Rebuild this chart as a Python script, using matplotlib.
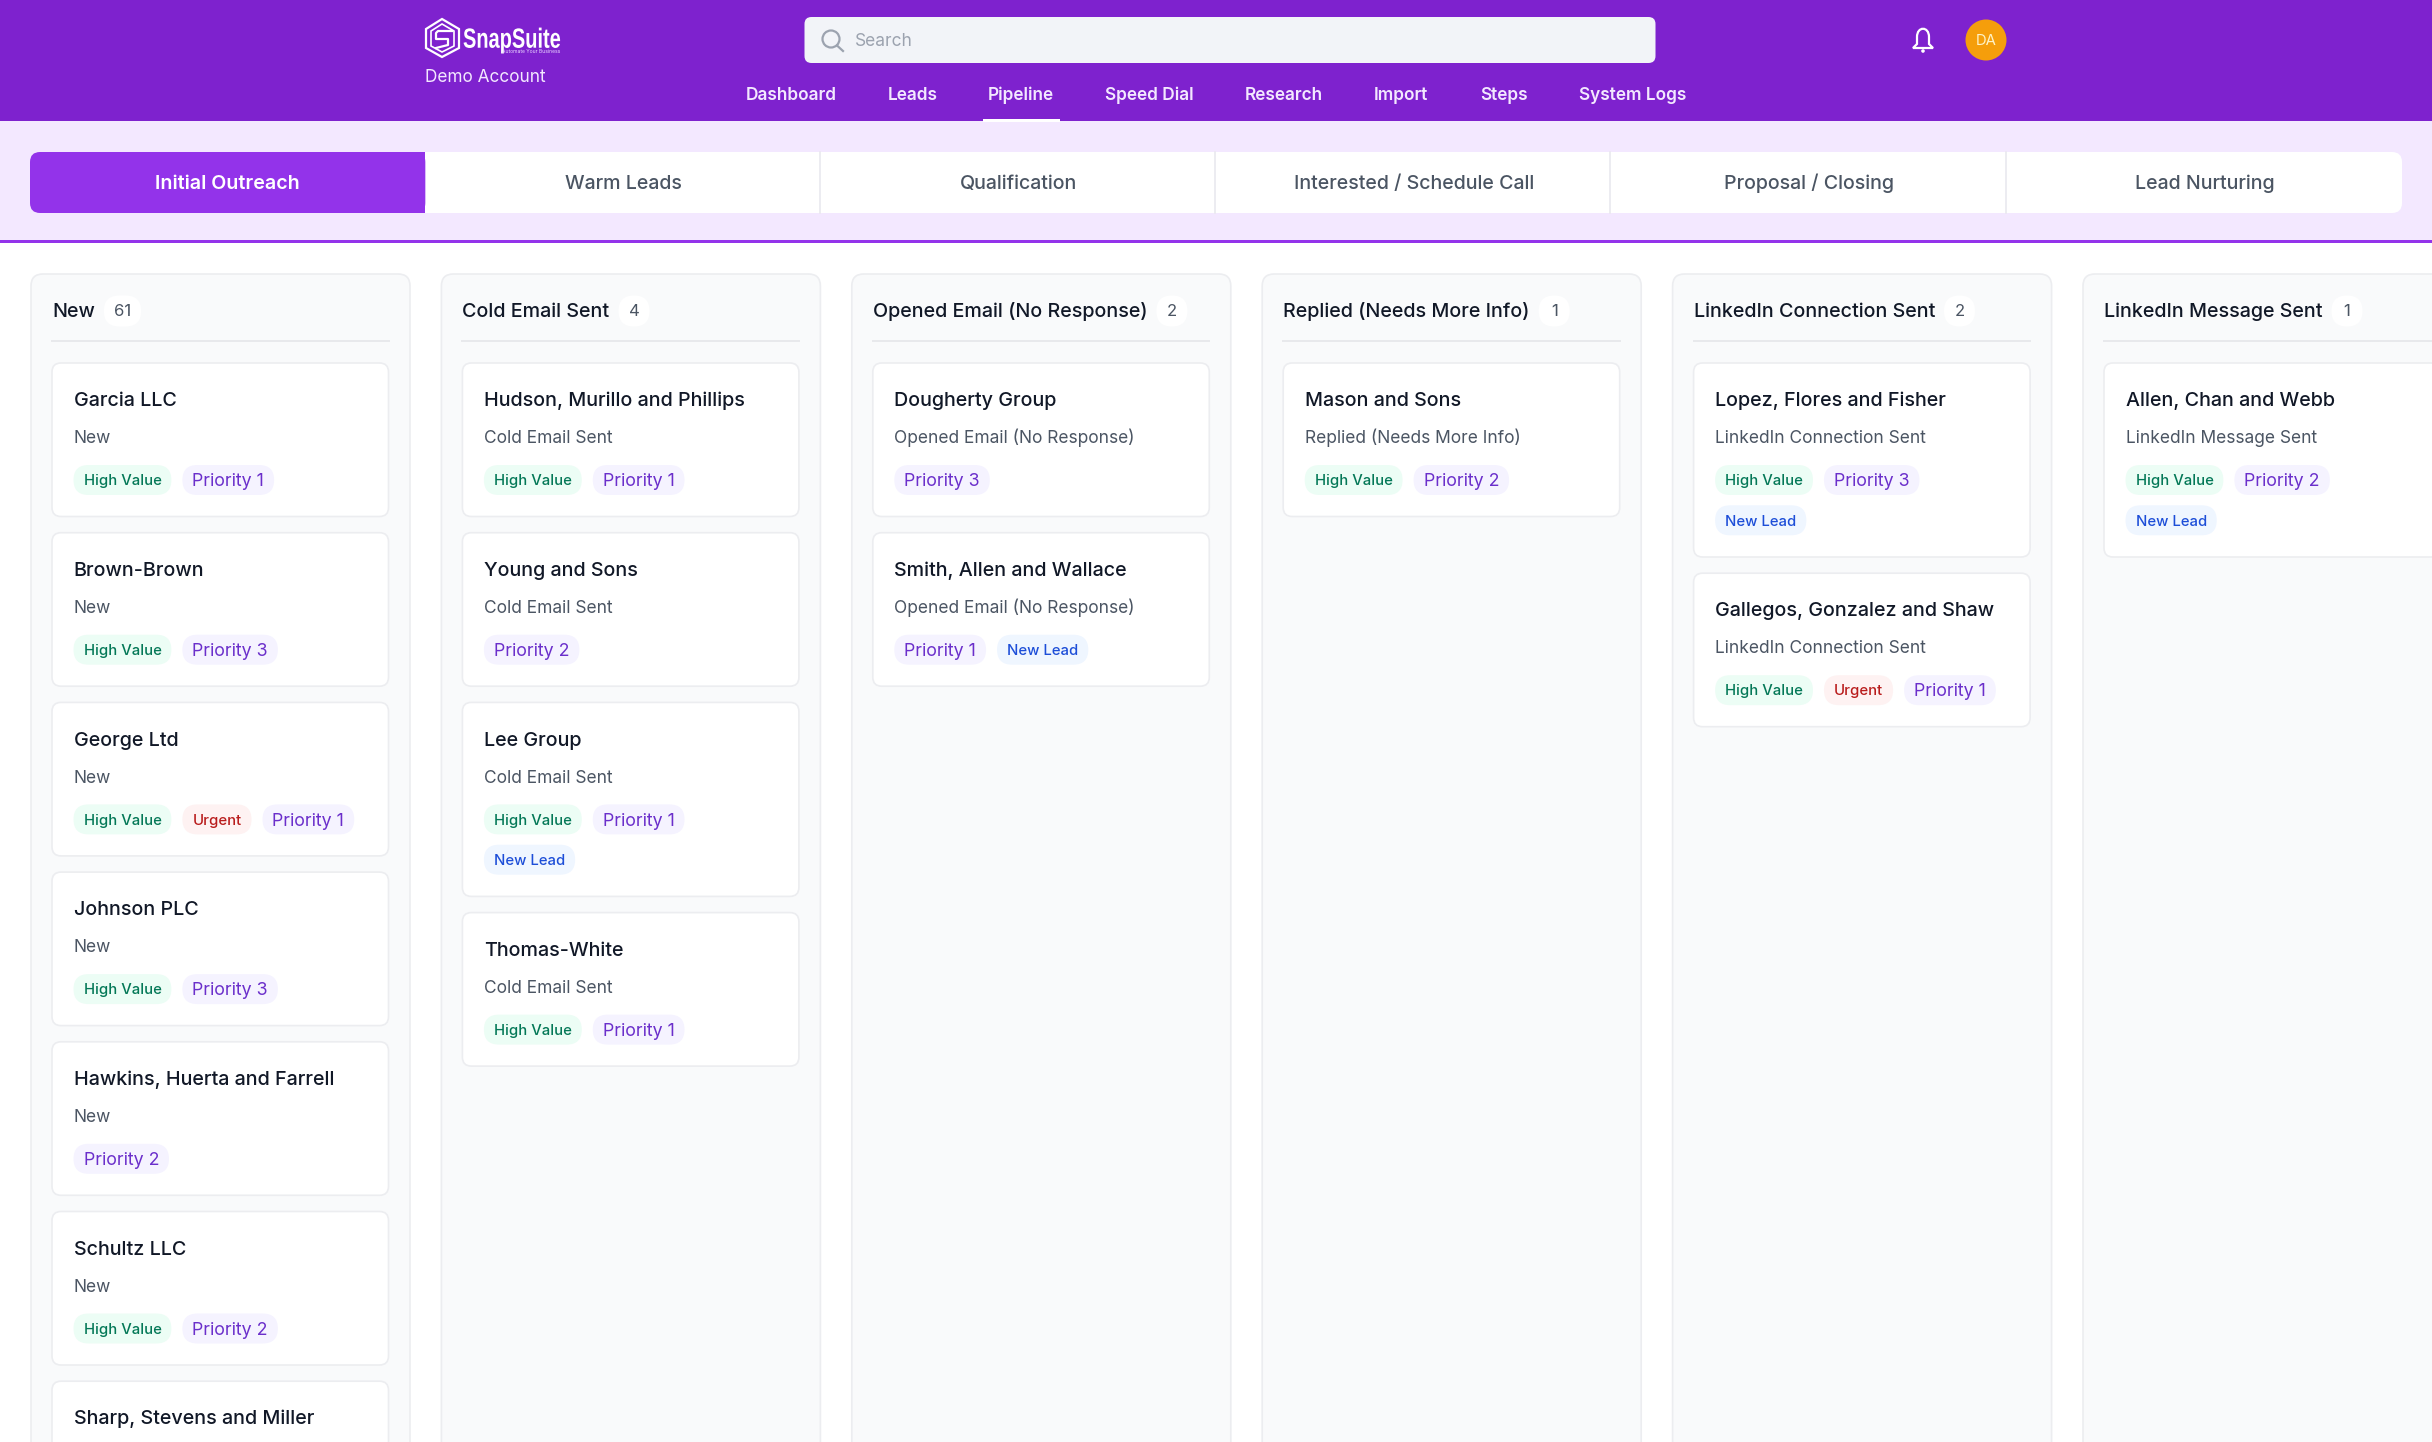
import matplotlib
matplotlib.use("Agg")
import matplotlib.pyplot as plt
from matplotlib.patches import Circle, FancyBboxPatch, Rectangle, Polygon, PathPatch
from matplotlib.patheffects import AbstractPathEffect
from matplotlib.path import Path
from matplotlib.transforms import Affine2D

plt.rcParams["font.family"] = ["Inter", "DejaVu Sans"]

W, H = 2432, 1442

nav_items = ["Dashboard", "Leads", "Pipeline", "Speed Dial", "Research", "Import", "Steps", "System Logs"]
tab_names = ["Initial Outreach", "Warm Leads", "Qualification", "Interested / Schedule Call", "Proposal / Closing", "Lead Nurturing"]
column_names = ["New", "Cold Email Sent", "Opened Email (No Response)", "Replied (Needs More Info)",
                "LinkedIn Connection Sent", "LinkedIn Message Sent"]
column_counts = [61, 4, 2, 1, 2, 1]

new_cards = [
    ("Garcia LLC", ["High Value", "Priority 1"]),
    ("Brown-Brown", ["High Value", "Priority 3"]),
    ("George Ltd", ["High Value", "Urgent", "Priority 1"]),
    ("Johnson PLC", ["High Value", "Priority 3"]),
    ("Hawkins, Huerta and Farrell", ["Priority 2"]),
    ("Schultz LLC", ["High Value", "Priority 2"]),
    ("Sharp, Stevens and Miller", []),
]
cold_cards = [
    ("Hudson, Murillo and Phillips", ["High Value", "Priority 1"]),
    ("Young and Sons", ["Priority 2"]),
    ("Lee Group", ["High Value", "Priority 1", "New Lead"]),
    ("Thomas-White", ["High Value", "Priority 1"]),
]
opened_cards = [
    ("Dougherty Group", ["Priority 3"]),
    ("Smith, Allen and Wallace", ["Priority 1", "New Lead"]),
]
replied_cards = [("Mason and Sons", ["High Value", "Priority 2"])]
linkedin_conn_cards = [
    ("Lopez, Flores and Fisher", ["High Value", "Priority 3", "New Lead"]),
    ("Gallegos, Gonzalez and Shaw", ["High Value", "Urgent", "Priority 1"]),
]
linkedin_msg_cards = [("Allen, Chan and Webb", ["High Value", "Priority 2", "New Lead"])]
all_cards = [new_cards, cold_cards, opened_cards, replied_cards, linkedin_conn_cards, linkedin_msg_cards]

# bg, text, font size
tag_styles = {
    "High Value": ("#ECFDF5", "#047857", 10.7),
    "Urgent": ("#FEF2F2", "#B91C1C", 10.7),
    "New Lead": ("#EFF6FF", "#1D4ED8", 10.7),
    "Priority": ("#F5F3FF", "#6B2FCB", 12.8),
}

fig = plt.figure(figsize=(W / 100, H / 100), dpi=100, facecolor="white")
ax = fig.add_axes([0, 0, 1, 1])
ax.set_xlim(0, W)
ax.set_ylim(H, 0)
ax.axis("off")
renderer = fig.canvas.get_renderer()


class Squeeze(AbstractPathEffect):
    # narrows the glyphs sideways, no condensed font is installed
    def __init__(self, x0, sx):
        super().__init__()
        self.x0, self.sx = x0, sx

    def draw_path(self, renderer, gc, tpath, affine, rgbFace=None):
        squeeze = Affine2D().translate(-self.x0, 0).scale(self.sx, 1).translate(self.x0, 0)
        renderer.draw_path(gc, tpath, affine + squeeze, rgbFace)


def box(x, y, w, h, r, fc, ec="none", lw=0, z=1):
    p = FancyBboxPatch((x, y), w, h, boxstyle=f"round,pad=0,rounding_size={r}", fc=fc, ec=ec, lw=lw, zorder=z)
    ax.add_patch(p)
    return p


def label(x, y, s, size, color, weight="normal", ha="left", **kw):
    # baseline placed from the font size, so descenders and slashes do not move the text
    return ax.text(x, y + 0.35 * size * 100 / 72, s, fontsize=size, color=color, fontweight=weight,
                   ha=ha, va="baseline", zorder=5, **kw)


def text_w(t):
    return t.get_window_extent(renderer).width


# header
ax.add_patch(Rectangle((0, 0), W, 121, fc="#7E22CE", ec="none"))
ax.add_patch(Rectangle((0, 121), W, 119, fc="#F3E8FF", ec="none"))
ax.add_patch(Rectangle((0, 240), W, 3, fc="#9333EA", ec="none"))

# logo
ax.add_patch(Polygon([(442, 19), (459, 29), (459, 48), (442, 57), (426, 48), (426, 29)], closed=True, fc="none", ec="white", lw=1.6, zorder=4))
ax.add_patch(Polygon([(442, 24), (454, 31), (454, 46), (442, 52), (431, 46), (431, 31)], closed=True, fc="none", ec="white", lw=1.2, zorder=4))
ax.plot([452, 438, 436, 436, 448, 448, 436], [31, 31, 33, 39, 39, 45, 48], color="white", lw=1.6, zorder=4)
logo = label(463, 38, "SnapSuite", 20, "white", "bold", family=["Liberation Sans"])
logo.set_path_effects([Squeeze(463, 0.72)])
label(560, 51, "Automate Your Business", 3.6, "#E9D5FF", ha="right")
label(425, 76, "Demo Account", 12.4, "#F3E8FF")

# search
box(804.5, 17, 851, 46, 7, "#F2F4F8")
ax.add_patch(Circle((831, 39), 8.5, fc="none", ec="#9CA3AF", lw=1.6, zorder=4))
ax.plot([837, 843], [45.5, 51], color="#9CA3AF", lw=1.6, zorder=4)
label(855, 40, "Search", 12.5, "#9CA3AF")

# bell + avatar
bell = Path([(1913, 48), (1917, 44), (1917, 37), (1917, 26), (1929, 26), (1929, 37), (1929, 44), (1933, 48), (1913, 48)],
            [Path.MOVETO, Path.LINETO, Path.LINETO, Path.CURVE4, Path.CURVE4, Path.CURVE4, Path.LINETO, Path.LINETO, Path.CLOSEPOLY])
ax.add_patch(PathPatch(bell, fc="none", ec="white", lw=1.6, zorder=4))
ax.add_patch(Circle((1923, 51), 1.8, fc="white", ec="none", zorder=4))
ax.add_patch(Circle((1986, 40), 20.5, fc="#F59E0B", ec="none", zorder=3))
label(1986, 40, "DA", 10.7, "#FEF3C7", ha="center")

# nav
nav_x = [746, 888, 988, 1105, 1245, 1374, 1480, 1579]
for x, name in zip(nav_x, nav_items):
    label(x, 94, name, 12.4, "#F3E8FF", "semibold")
ax.add_patch(Rectangle((983, 119), 77, 3, fc="white", ec="none", zorder=4))

# tabs
tab_left, tab_right, tab_top, tab_bot = 30, 2402, 152, 213
tab_w = (tab_right - tab_left) / len(tab_names)
box(tab_left, tab_top, tab_right - tab_left, tab_bot - tab_top, 10, "white")
box(tab_left, tab_top, tab_w, tab_bot - tab_top, 10, "#9333EA", z=2)
ax.add_patch(Rectangle((tab_left + tab_w - 20, tab_top), 20, tab_bot - tab_top, fc="#9333EA", ec="none", zorder=2))
for i, name in enumerate(tab_names):
    cx = tab_left + tab_w * (i + 0.5)
    if i == 0:
        label(cx, 182, name, 14.1, "white", "semibold", ha="center")
    else:
        label(cx, 182, name, 14.1, "#4B5563", "medium", ha="center")
    if i > 1:
        ax.plot([tab_left + tab_w * i - 1] * 2, [tab_top, tab_bot], color="#E9E9EF", lw=1.2, zorder=3)

# columns
col_x0, col_step, col_w, col_top = 31, 410.4, 379, 274
card_inset, card_w = 21, 336.5
for i, (name, count, cards) in enumerate(zip(column_names, column_counts, all_cards)):
    cx = col_x0 + i * col_step
    box(cx, col_top, col_w, H + 60 - col_top, 12, "#F9FAFB", "#ECEDF0", 1.2)
    t = label(cx + card_inset, 310.5, name, 14.2, "#111827", "medium")
    right = cx + card_inset + text_w(t)
    c = label(0, 310.5, str(count), 12, "#4B5563")
    cw = max(text_w(c) + 20, 31)
    box(right + 9, 295.5, cw, 31, 15.5, "white", z=3)
    c.set_x(right + 9 + cw / 2)
    c.set_ha("center")
    ax.plot([cx + card_inset, cx + card_inset + card_w], [341, 341], color="#E8E9EC", lw=1.4, zorder=2)

    y = 363
    for card_name, tags in cards:
        # measure the tags first so wrapped cards get the taller box
        x_end = cx + card_inset + card_w - 21
        tx = cx + card_inset + 21.5
        row = 0
        placed = []
        for tag in tags:
            bg, fg, size = tag_styles["Priority" if tag.startswith("Priority") else tag]
            tt = label(0, 0, tag, size, fg, "medium" if size < 12 else "normal")
            tw = text_w(tt) + 20
            if tx + tw > x_end:
                row += 1
                tx = cx + card_inset + 21.5
            placed.append((tt, tx, tw, row, bg, size))
            tx += tw + 11
        h = 153.5 + 40.5 * row
        box(cx + card_inset, y, card_w, h, 9, "white", "#ECEDF0", 1.2, z=2)
        label(cx + card_inset + 21.5, y + 36.2, card_name, 14.2, "#111827", "medium")
        label(cx + card_inset + 21.5, y + 74.2, name, 12.5, "#4B5563")
        for tt, x, tw, r, bg, size in placed:
            yc = y + 117 + 40.3 * r
            box(x, yc - 15, tw, 30, 15, bg, z=3)
            tt.set_position((x + 10, yc + 0.35 * size * 100 / 72))
        y += h + 16.2

fig.savefig("out.png", dpi=100, facecolor="white")
